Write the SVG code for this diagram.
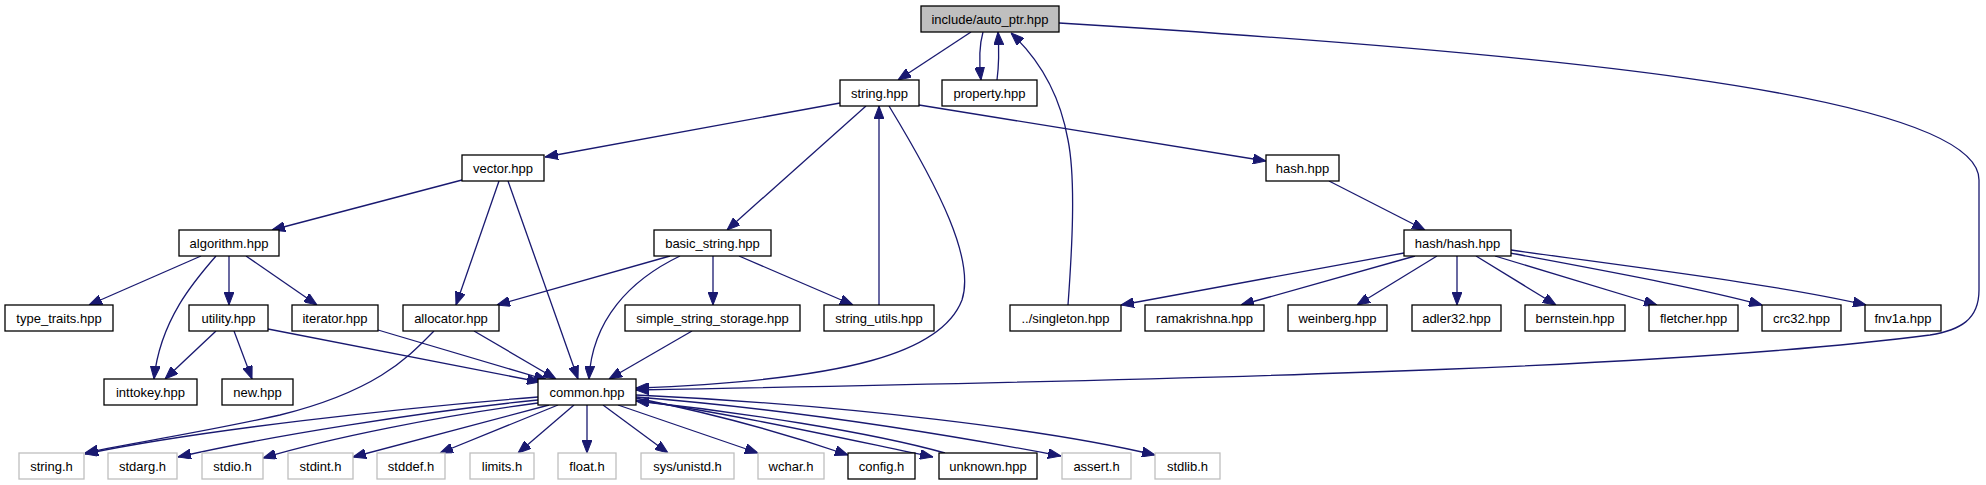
<svg xmlns="http://www.w3.org/2000/svg" width="1986" height="485" viewBox="0 0 1986 485">
<style>
.n rect{fill:#fff;stroke:#000;stroke-width:1.3}
.n.root rect{fill:#bfbfbf}
.n.sys rect{stroke:#bfbfbf}
.n text{font-family:"Liberation Sans",Arial,sans-serif;font-size:13px;text-anchor:middle;fill:#000}
#edges path{fill:none;stroke:#191970;stroke-width:1.3;marker-end:url(#ah)}
</style>
<defs>
<marker id="ah" markerUnits="userSpaceOnUse" markerWidth="13" markerHeight="10" viewBox="0 0 13 10" refX="13" refY="5" orient="auto">
<path d="M0,0 L13,5 L0,10 z" fill="#191970" stroke="#191970" stroke-width="1"/>
</marker>
</defs>
<rect width="1986" height="485" fill="#fff"/>
<g id="edges">
<path d="M971,32 L898,80"/>
<path d="M983,32 C979,46 979,62 981,80"/>
<path d="M997,80 C999,65 999,48 998,32"/>
<path d="M1068,305 C1072,250 1076,180 1068,140 C1060,95 1040,60 1011,33"/>
<path d="M1059,23 C1500,50 1979,90 1979,180 L1979,290 C1979,320 1960,330 1930,335 C1700,365 1300,378 636,390"/>
<path d="M840,103 L545,157"/>
<path d="M866,106 L727,230"/>
<path d="M879,305 L879,106"/>
<path d="M889,106 C940,190 975,260 962,300 C942,352 850,380 636,388"/>
<path d="M919,105 L1266,161"/>
<path d="M462,180 L272,230"/>
<path d="M499,181 L456,305"/>
<path d="M508,181 L578,379"/>
<path d="M1329,181 L1425,230"/>
<path d="M201,256 L89,305"/>
<path d="M216,256 C195,280 160,320 154,379"/>
<path d="M229,256 L229,305"/>
<path d="M246,256 L317,305"/>
<path d="M216,331 L165,379"/>
<path d="M234,331 L252,379"/>
<path d="M268,329 L540,382"/>
<path d="M378,330 L547,380"/>
<path d="M474,331 L556,379"/>
<path d="M434,331 C410,355 380,390 280,415 C200,433 120,445 85,453"/>
<path d="M670,256 L497,305"/>
<path d="M680,256 C630,280 592,320 589,379"/>
<path d="M713,256 L713,305"/>
<path d="M739,256 L853,305"/>
<path d="M692,331 L609,379"/>
<path d="M1404,253 L1121,305"/>
<path d="M1415,256 L1241,305"/>
<path d="M1437,256 L1357,305"/>
<path d="M1457,256 L1457,305"/>
<path d="M1476,256 L1556,305"/>
<path d="M1495,256 L1657,305"/>
<path d="M1510,253 C1600,270 1700,288 1762,305"/>
<path d="M1511,250 C1640,268 1780,285 1866,305"/>
<path d="M538,397 C400,408 200,430 85,454"/>
<path d="M538,400 C420,412 270,436 178,457"/>
<path d="M538,403 C440,416 330,438 263,458"/>
<path d="M549,405 L353,457"/>
<path d="M558,405 L440,453"/>
<path d="M574,405 L518,453"/>
<path d="M587,405 L587,453"/>
<path d="M603,405 L668,453"/>
<path d="M618,405 L758,453"/>
<path d="M636,398 C720,415 790,435 848,455"/>
<path d="M636,400 C740,415 850,440 933,457"/>
<path d="M945,453 C870,432 740,412 636,401"/>
<path d="M636,397 C800,410 950,435 1061,456"/>
<path d="M636,395 C850,405 1050,430 1155,455"/>
</g>
<g id="n_auto_ptr" class="n root"><rect x="921" y="6" width="138" height="26"/><text x="990" y="24">include/auto_ptr.hpp</text></g>
<g id="n_string" class="n"><rect x="840" y="80" width="79" height="26"/><text x="879.5" y="98">string.hpp</text></g>
<g id="n_property" class="n"><rect x="942" y="80" width="95" height="26"/><text x="989.5" y="98">property.hpp</text></g>
<g id="n_vector" class="n"><rect x="462" y="155" width="82" height="26"/><text x="503" y="173">vector.hpp</text></g>
<g id="n_hash" class="n"><rect x="1266" y="155" width="73" height="26"/><text x="1302.5" y="173">hash.hpp</text></g>
<g id="n_algorithm" class="n"><rect x="179" y="230" width="100" height="26"/><text x="229" y="248">algorithm.hpp</text></g>
<g id="n_basic_string" class="n"><rect x="654" y="230" width="117" height="26"/><text x="712.5" y="248">basic_string.hpp</text></g>
<g id="n_hash_hash" class="n"><rect x="1404" y="230" width="107" height="26"/><text x="1457.5" y="248">hash/hash.hpp</text></g>
<g id="n_type_traits" class="n"><rect x="5" y="305" width="108" height="26"/><text x="59" y="323">type_traits.hpp</text></g>
<g id="n_utility" class="n"><rect x="189" y="305" width="79" height="26"/><text x="228.5" y="323">utility.hpp</text></g>
<g id="n_iterator" class="n"><rect x="292" y="305" width="86" height="26"/><text x="335" y="323">iterator.hpp</text></g>
<g id="n_allocator" class="n"><rect x="403" y="305" width="96" height="26"/><text x="451" y="323">allocator.hpp</text></g>
<g id="n_simple_string_storage" class="n"><rect x="625" y="305" width="175" height="26"/><text x="712.5" y="323">simple_string_storage.hpp</text></g>
<g id="n_string_utils" class="n"><rect x="824" y="305" width="110" height="26"/><text x="879" y="323">string_utils.hpp</text></g>
<g id="n_singleton" class="n"><rect x="1010" y="305" width="111" height="26"/><text x="1065.5" y="323">../singleton.hpp</text></g>
<g id="n_ramakrishna" class="n"><rect x="1145" y="305" width="119" height="26"/><text x="1204.5" y="323">ramakrishna.hpp</text></g>
<g id="n_weinberg" class="n"><rect x="1288" y="305" width="99" height="26"/><text x="1337.5" y="323">weinberg.hpp</text></g>
<g id="n_adler32" class="n"><rect x="1412" y="305" width="89" height="26"/><text x="1456.5" y="323">adler32.hpp</text></g>
<g id="n_bernstein" class="n"><rect x="1525" y="305" width="100" height="26"/><text x="1575" y="323">bernstein.hpp</text></g>
<g id="n_fletcher" class="n"><rect x="1649" y="305" width="89" height="26"/><text x="1693.5" y="323">fletcher.hpp</text></g>
<g id="n_crc32" class="n"><rect x="1762" y="305" width="79" height="26"/><text x="1801.5" y="323">crc32.hpp</text></g>
<g id="n_fnv1a" class="n"><rect x="1865" y="305" width="76" height="26"/><text x="1903" y="323">fnv1a.hpp</text></g>
<g id="n_inttokey" class="n"><rect x="104" y="379" width="93" height="26"/><text x="150.5" y="397">inttokey.hpp</text></g>
<g id="n_new" class="n"><rect x="222" y="379" width="71" height="26"/><text x="257.5" y="397">new.hpp</text></g>
<g id="n_common" class="n"><rect x="538" y="379" width="98" height="26"/><text x="587" y="397">common.hpp</text></g>
<g id="n_string_h" class="n sys"><rect x="19" y="453" width="65" height="26"/><text x="51.5" y="471">string.h</text></g>
<g id="n_stdarg_h" class="n sys"><rect x="108" y="453" width="69" height="26"/><text x="142.5" y="471">stdarg.h</text></g>
<g id="n_stdio_h" class="n sys"><rect x="202" y="453" width="61" height="26"/><text x="232.5" y="471">stdio.h</text></g>
<g id="n_stdint_h" class="n sys"><rect x="288" y="453" width="65" height="26"/><text x="320.5" y="471">stdint.h</text></g>
<g id="n_stddef_h" class="n sys"><rect x="377" y="453" width="68" height="26"/><text x="411" y="471">stddef.h</text></g>
<g id="n_limits_h" class="n sys"><rect x="470" y="453" width="64" height="26"/><text x="502" y="471">limits.h</text></g>
<g id="n_float_h" class="n sys"><rect x="558" y="453" width="58" height="26"/><text x="587" y="471">float.h</text></g>
<g id="n_sys_unistd_h" class="n sys"><rect x="641" y="453" width="93" height="26"/><text x="687.5" y="471">sys/unistd.h</text></g>
<g id="n_wchar_h" class="n sys"><rect x="758" y="453" width="66" height="26"/><text x="791" y="471">wchar.h</text></g>
<g id="n_config_h" class="n"><rect x="848" y="453" width="67" height="26"/><text x="881.5" y="471">config.h</text></g>
<g id="n_unknown" class="n"><rect x="939" y="453" width="98" height="26"/><text x="988" y="471">unknown.hpp</text></g>
<g id="n_assert_h" class="n sys"><rect x="1062" y="453" width="69" height="26"/><text x="1096.5" y="471">assert.h</text></g>
<g id="n_stdlib_h" class="n sys"><rect x="1155" y="453" width="65" height="26"/><text x="1187.5" y="471">stdlib.h</text></g>
</svg>
